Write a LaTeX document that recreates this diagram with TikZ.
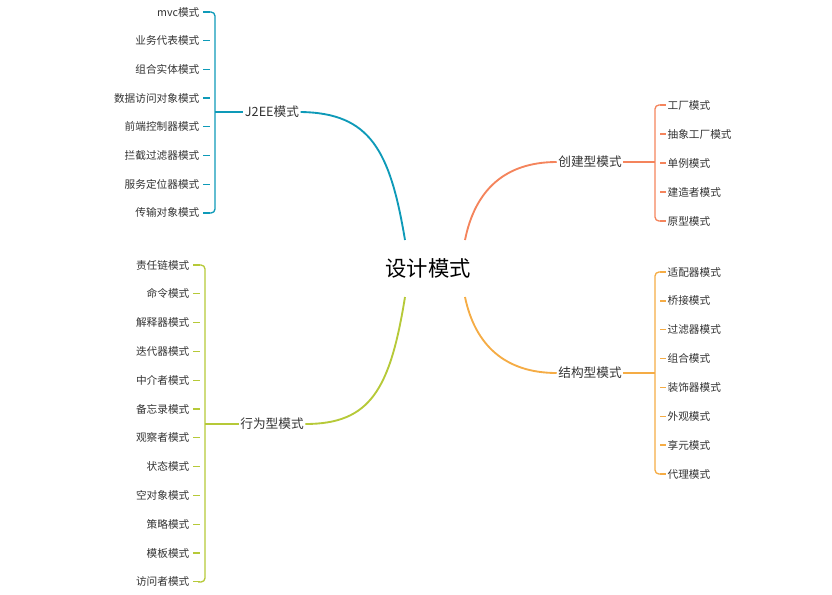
\documentclass[tikz,border=0pt]{standalone}
\usepackage{fontspec}
\setmainfont{Noto Sans CJK SC}
\definecolor{cj}{HTML}{0E9AB8}
\definecolor{cc}{HTML}{F4845C}
\definecolor{cs}{HTML}{F5AC45}
\definecolor{cb}{HTML}{B6C938}
\definecolor{tx}{HTML}{333333}
\begin{document}
\begin{tikzpicture}[x=0.75pt,y=-0.75pt,
  leaf/.style={font=\fontsize{8}{9}\selectfont,text=tx,inner sep=1pt},
  br/.style={font=\fontsize{9.5}{11}\selectfont,text=tx,inner sep=1pt},
  link/.style={line width=1.4pt},
  brk/.style={line width=1pt,rounded corners=3pt}]
\useasboundingbox (0,0) rectangle (832,594);
\node[font=\fontsize{16}{18}\selectfont,text=black] (root) at (428,268) {设计模式};
\coordinate (rtl) at (405,240);\coordinate (rtr) at (465,240);
\coordinate (rbl) at (405,297);\coordinate (rbr) at (465,297);
% J2EE
\node[br] (j) at (272,112) {J2EE模式};
\draw[link,cj] (rtl) .. controls (390,150) and (370,113) .. (j.east);
\foreach \t [count=\i] in {mvc模式,业务代表模式,组合实体模式,数据访问对象模式,前端控制器模式,拦截过滤器模式,服务定位器模式,传输对象模式}{
  \pgfmathsetmacro\yy{12+(\i-1)*28.7}
  \node[leaf,anchor=east] (j\i) at (201,\yy) {\t};
  \draw[cj,line width=1pt] (j\i.east) ++(2,0) -- (210,\yy);}
\draw[brk,cj] (208,12) -- (215,12) -- (215,213) -- (208,213);
\draw[cj,line width=1pt] (215,112) -- (j.west);
% 创建型
\node[br] (c) at (590,162) {创建型模式};
\draw[link,cc] (rtr) .. controls (475,190) and (505,162) .. (c.west);
\foreach \t [count=\i] in {工厂模式,抽象工厂模式,单例模式,建造者模式,原型模式}{
  \pgfmathsetmacro\yy{105+(\i-1)*29}
  \node[leaf,anchor=west] (c\i) at (666,\yy) {\t};
  \draw[cc,line width=1pt] (660,\yy) -- (c\i.west);}
\draw[brk,cc] (662,105) -- (655,105) -- (655,221) -- (662,221);
\draw[cc,line width=1pt] (c.east) -- (655,162);
% 结构型
\node[br] (s) at (590,373) {结构型模式};
\draw[link,cs] (rbr) .. controls (475,345) and (505,373) .. (s.west);
\foreach \t [count=\i] in {适配器模式,桥接模式,过滤器模式,组合模式,装饰器模式,外观模式,享元模式,代理模式}{
  \pgfmathsetmacro\yy{272+(\i-1)*28.85}
  \node[leaf,anchor=west] (s\i) at (666,\yy) {\t};
  \draw[cs,line width=1pt] (660,\yy) -- (s\i.west);}
\draw[brk,cs] (662,272) -- (655,272) -- (655,474) -- (662,474);
\draw[cs,line width=1pt] (s.east) -- (655,373);
% 行为型
\node[br] (b) at (272,424) {行为型模式};
\draw[link,cb] (rbl) .. controls (390,390) and (370,424) .. (b.east);
\foreach \t [count=\i] in {责任链模式,命令模式,解释器模式,迭代器模式,中介者模式,备忘录模式,观察者模式,状态模式,空对象模式,策略模式,模板模式,访问者模式}{
  \pgfmathsetmacro\yy{265+(\i-1)*28.8}
  \node[leaf,anchor=east] (b\i) at (191,\yy) {\t};
  \draw[cb,line width=1pt] (b\i.east) ++(2,0) -- (200,\yy);}
\draw[brk,cb] (198,265) -- (205,265) -- (205,582) -- (198,582);
\draw[cb,line width=1pt] (205,424) -- (b.west);
\end{tikzpicture}
\end{document}
